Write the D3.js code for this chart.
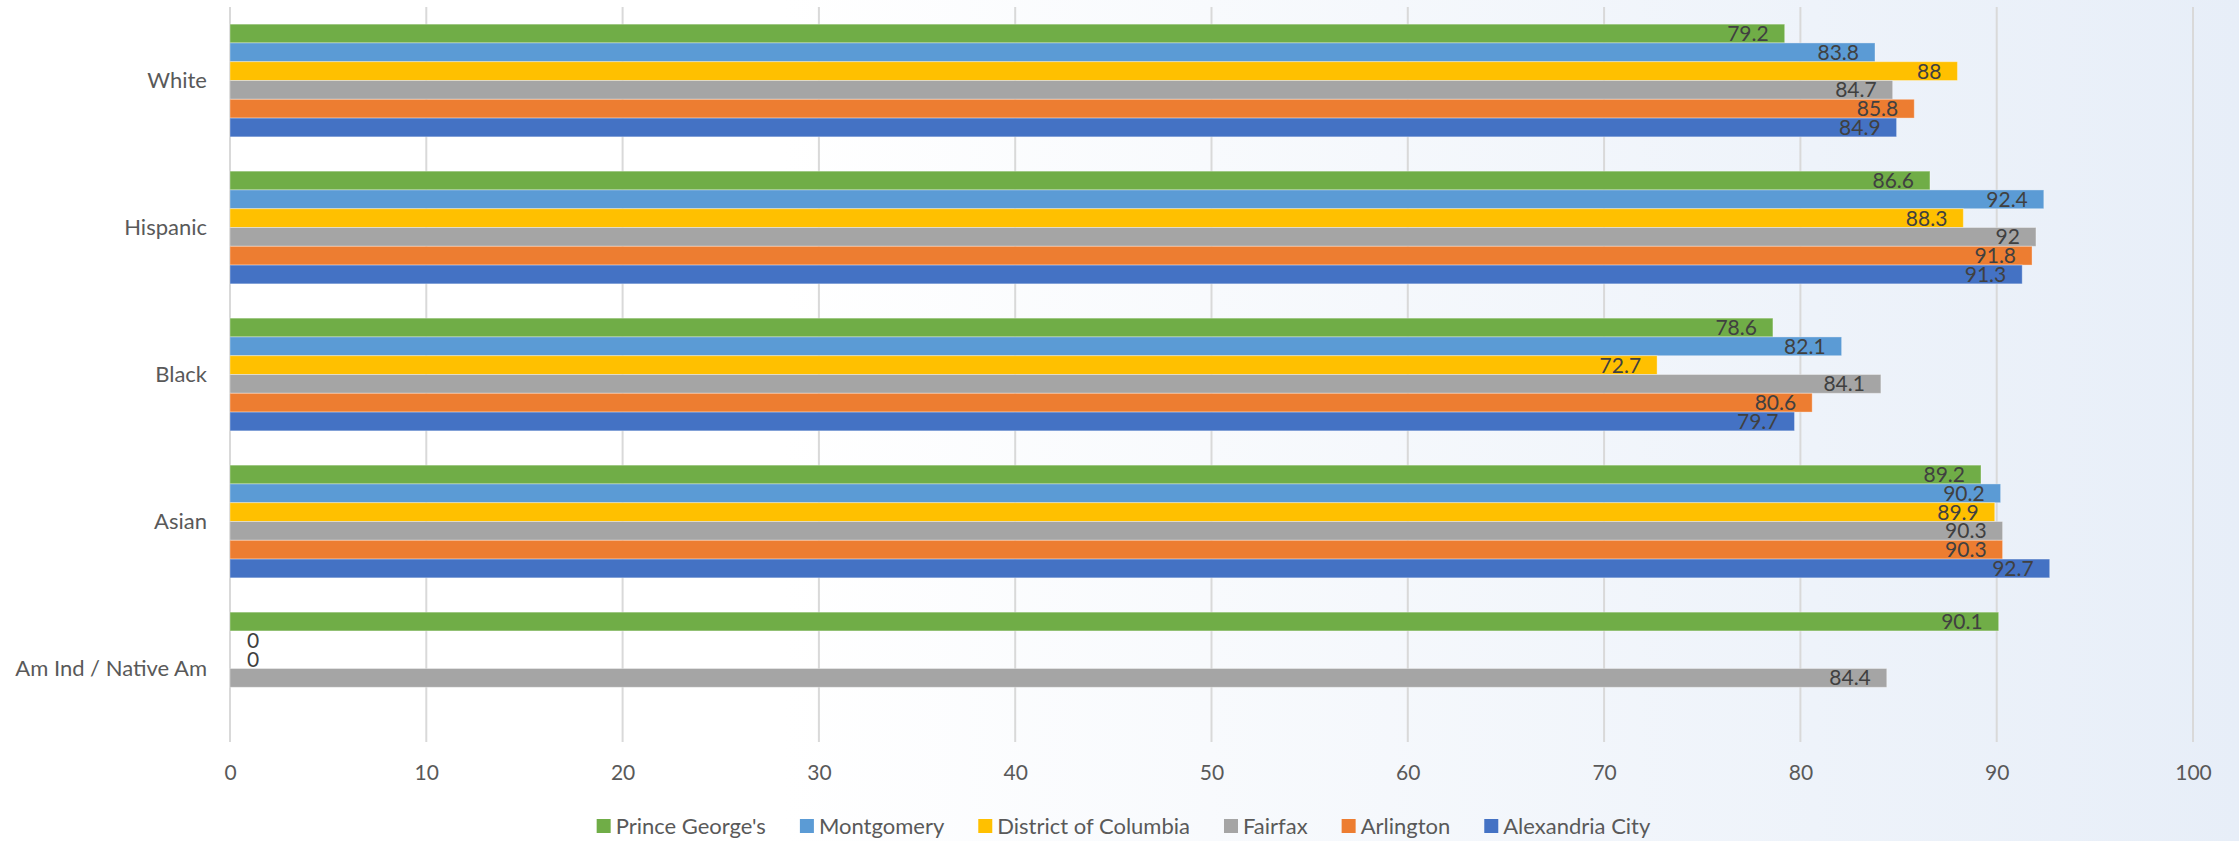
<!DOCTYPE html>
<html>
<head>
<meta charset="utf-8">
<script src="https://cdn.jsdelivr.net/npm/d3@7/dist/d3.min.js"></script>
<style>
  html, body { margin: 0; padding: 0; background: #fff; }
  svg { display: block; }
  text { font-family: Lato, "Open Sans", sans-serif; }
</style>
</head>
<body>
<svg id="chart" width="2239" height="841"></svg>
<script>
const categories = ["White", "Hispanic", "Black", "Asian", "Am Ind / Native Am"];
const seriesNames = ["Prince George's", "Montgomery", "District of Columbia", "Fairfax", "Arlington", "Alexandria City"];
const seriesColors = ["#70AD47", "#5B9BD5", "#FFC000", "#A5A5A5", "#ED7D31", "#4472C4"];
// values per series, in category order (null = no data)
const princeGeorges = [79.2, 86.6, 78.6, 89.2, 90.1];
const montgomery    = [83.8, 92.4, 82.1, 90.2, 0];
const districtOfCol = [88.0, 88.3, 72.7, 89.9, 0];
const fairfax       = [84.7, 92.0, 84.1, 90.3, 84.4];
const arlington     = [85.8, 91.8, 80.6, 90.3, null];
const alexandria    = [84.9, 91.3, 79.7, 92.7, null];
const seriesValues = [princeGeorges, montgomery, districtOfCol, fairfax, arlington, alexandria];
const xTicks = [0, 10, 20, 30, 40, 50, 60, 70, 80, 90, 100];

const W = 2239, H = 841;
const svg = d3.select("#chart");

// background gradient
const defs = svg.append("defs");
const grad = defs.append("linearGradient").attr("id", "bg").attr("x1", "0").attr("x2", "1").attr("y1", "0").attr("y2", "0");
grad.append("stop").attr("offset", "0").attr("stop-color", "#ffffff");
grad.append("stop").attr("offset", "0.35").attr("stop-color", "#ffffff");
grad.append("stop").attr("offset", "1").attr("stop-color", "#e7eef8");
svg.append("rect").attr("width", W).attr("height", H).attr("fill", "url(#bg)");

const plot = { left: 230, right: 2193, top: 7, bottom: 742 };

const x = d3.scaleLinear().domain([0, 100]).range([plot.left, plot.right]);
const y0 = d3.scaleBand().domain(categories).range([plot.top, plot.bottom])
  .paddingInner(0.2333).paddingOuter(0.11667);
const y1 = d3.scaleBand().domain(seriesNames).range([0, y0.bandwidth()]);

// gridlines
svg.append("g").selectAll("line").data(xTicks).join("line")
  .attr("x1", d => x(d)).attr("x2", d => x(d))
  .attr("y1", plot.top).attr("y2", plot.bottom)
  .attr("stroke", "#d9d9d9").attr("stroke-width", 2);

// axis
const xAxis = d3.axisBottom(x).tickValues(xTicks).tickSize(0).tickPadding(0);
const ax = svg.append("g").attr("transform", `translate(0,${plot.bottom})`).call(xAxis);
ax.select(".domain").remove();
ax.selectAll("text").attr("y", 31).attr("dy", "0.35em")
  .attr("fill", "#595959").style("font-size", "21px").style("font-family", "Lato, 'Open Sans', sans-serif");

// category labels
const yAxis = d3.axisLeft(y0).tickSize(0).tickPadding(23);
const ay = svg.append("g").attr("transform", `translate(${plot.left},0)`).call(yAxis);
ay.select(".domain").remove();
ay.selectAll("text").attr("fill", "#595959").style("font-size", "22px").style("font-family", "Lato, 'Open Sans', sans-serif");

// bars
const flat = [];
categories.forEach((c, ci) => {
  seriesNames.forEach((s, si) => {
    const v = seriesValues[si][ci];
    if (v !== null) flat.push({ cat: c, series: s, value: v, color: seriesColors[si] });
  });
});

const bars = svg.append("g");
bars.selectAll("rect").data(flat).join("rect")
  .attr("x", x(0))
  .attr("y", d => y0(d.cat) + y1(d.series))
  .attr("width", d => x(d.value) - x(0))
  .attr("height", y1.bandwidth())
  .attr("fill", d => d.color)
  .attr("stroke", "rgba(255,255,255,0.35)")
  .attr("stroke-width", 1);

// value labels
svg.append("g").selectAll("text").data(flat).join("text")
  .attr("x", d => d.value === 0 ? x(0) + 17 : x(d.value) - 16)
  .attr("y", d => y0(d.cat) + y1(d.series) + y1.bandwidth() / 2)
  .attr("dy", "0.36em")
  .attr("text-anchor", d => d.value === 0 ? "start" : "end")
  .attr("fill", "#404040")
  .style("font-size", "21px")
  .text(d => d3.format("")(d.value));

// legend
const legend = svg.append("g");
const items = legend.selectAll("g").data(seriesNames).join("g");
items.append("rect").attr("width", 14).attr("height", 14).attr("y", -7)
  .attr("fill", (d, i) => seriesColors[i]);
items.append("text").attr("x", 19).attr("dy", "0.35em")
  .attr("fill", "#595959").style("font-size", "22px").text(d => d);
let widths = [];
items.each(function () { widths.push(19 + this.querySelector("text").getComputedTextLength()); });
const gap = 34;
const total = d3.sum(widths) + gap * (widths.length - 1);
let cx = (W - total) / 2 + 4;
items.attr("transform", (d, i) => { const t = `translate(${cx},826)`; cx += widths[i] + gap; return t; });
</script>
</body>
</html>
